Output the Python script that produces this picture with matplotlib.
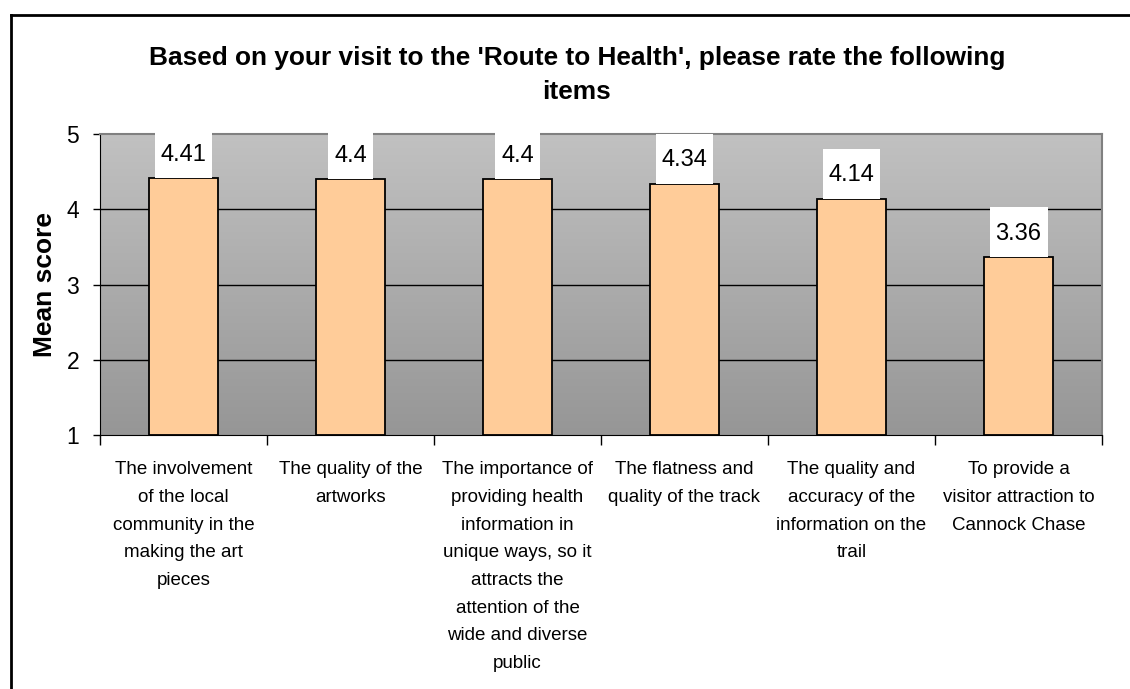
import numpy as np
import matplotlib
matplotlib.use("Agg")
import matplotlib.pyplot as plt
from matplotlib.patches import Rectangle
from matplotlib.transforms import IdentityTransform
from matplotlib.lines import Line2D

plt.rcParams['font.family'] = ['Liberation Sans', 'DejaVu Sans']

title = "Based on your visit to the 'Route to Health', please rate the following\nitems"
categories = [
    "The involvement\nof the local\ncommunity in the\nmaking the art\npieces",
    "The quality of the\nartworks",
    "The importance of\nproviding health\ninformation in\nunique ways, so it\nattracts the\nattention of the\nwide and diverse\npublic",
    "The flatness and\nquality of the track",
    "The quality and\naccuracy of the\ninformation on the\ntrail",
    "To provide a\nvisitor attraction to\nCannock Chase",
]
values = [4.41, 4.4, 4.4, 4.34, 4.14, 3.36]
value_labels = ["4.41", "4.4", "4.4", "4.34", "4.14", "3.36"]
y_ticks = [1, 2, 3, 4, 5]

W, H, DPI = 1130, 689, 100
fig = plt.figure(figsize=(W / DPI, H / DPI), dpi=DPI)
fig.patch.set_facecolor('white')

# outer chart border (left and top visible)
fig.add_artist(Line2D([11 / W, 11 / W], [0, 1 - 15 / H], color='black', lw=2, transform=fig.transFigure))
fig.add_artist(Line2D([11 / W, 1], [1 - 15 / H, 1 - 15 / H], color='black', lw=2, transform=fig.transFigure))

left, right, top, bottom = 100, 1102, 134, 435
ax = fig.add_axes([left / W, 1 - bottom / H, (right - left) / W, (bottom - top) / H])

n = len(values)
x = np.arange(n)
ax.set_xlim(-0.5, n - 0.5)
ax.set_ylim(1, 5)

# gradient background
grad = np.linspace(0, 1, 256).reshape(-1, 1)
top_c = np.array([193, 193, 193]) / 255
bot_c = np.array([150, 150, 150]) / 255
img = top_c[None, None, :] * (1 - grad[:, :, None]) + bot_c[None, None, :] * grad[:, :, None]
ax.imshow(img, extent=(-0.5, n - 0.5, 1, 5), aspect='auto', origin='upper', zorder=0)

# gridlines
for yv in y_ticks[1:-1]:
    ax.axhline(yv, color='black', lw=1, zorder=1)

bars = ax.bar(x, [v - 1 for v in values], bottom=1, width=0.41, color='#FFCC99',
              edgecolor='black', linewidth=1.3, zorder=2)

# spines
ax.spines['top'].set_color('#808080')
ax.spines['right'].set_color('#808080')
ax.spines['top'].set_linewidth(1.5)
ax.spines['right'].set_linewidth(1.5)
ax.spines['left'].set_color('black')
ax.spines['bottom'].set_color('black')
ax.spines['top'].set_zorder(3)

ax.set_yticks(y_ticks)
ax.set_yticklabels([str(t) for t in y_ticks], fontsize=16.5)
ax.tick_params(axis='y', direction='out', length=5, width=1, pad=10)

ax.set_xticks(x)
ax.set_xticklabels(categories, fontsize=13.5, linespacing=1.82, va='top', ha='center')
ax.tick_params(axis='x', length=0, pad=19)
ax.set_xticks(np.arange(-0.5, n, 1.0), minor=True)
ax.tick_params(axis='x', which='minor', direction='out', length=7, width=1)

ax.set_ylabel('Mean score', fontsize=19, fontweight='bold', labelpad=7)

fig.text(577 / W, 1 - 75 / H, title, ha='center', va='center', fontsize=18.9,
         fontweight='bold', linespacing=1.55)

texts = []
for xi, v, lab in zip(x, values, value_labels):
    t = ax.annotate(lab, (xi, v), xytext=(0, 12.5), textcoords='offset points',
                    ha='center', va='baseline', fontsize=17, zorder=6,
                    annotation_clip=False)
    texts.append(t)

fig.canvas.draw()
renderer = fig.canvas.get_renderer()
for t, xi, v in zip(texts, x, values):
    bb = t.get_window_extent(renderer)
    px, py = ax.transData.transform((xi, v))
    bw = bb.width + 12
    rect = Rectangle((px - bw / 2, py), bw, 50, transform=IdentityTransform(),
                     facecolor='white', edgecolor='none', zorder=5, clip_on=False)
    ax.add_artist(rect)

fig.savefig('out.png', dpi=DPI)
